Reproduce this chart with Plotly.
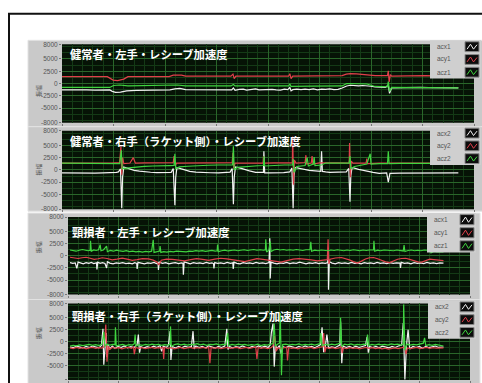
import plotly.graph_objects as go

W, H = 482, 383

# ---- data: sample index vs. acceleration (raw units) ----
TITLES = [
    "健常者・左手・レシーブ加速度",
    "健常者・右手（ラケット側）・レシーブ加速度",
    "頸損者・左手・レシーブ加速度",
    "頸損者・右手（ラケット側）・レシーブ加速度",
]
LEGEND_NAMES = [["acx1", "acy1", "acz1"], ["acx2", "acy2", "acz2"],
                ["acx1", "acy1", "acz1"], ["acx2", "acy2", "acz2"]]
Y_TICKS = [8000, 5000, 2500, 0, -2500, -5000, -8000]
Y_LABEL = "振幅"

# healthy, left hand
H_L_ACX = [(0,-1300),(20,-1250),(40,-1300),(60,-1280),(80,-1340),(100,-1290),(116,-1300),(122,-1600),(130,-1800),
           (142,-1750),(157,-1500),(180,-1400),(200,-1350),(230,-1300),(262,-1300),(274,-1100),(286,-1000),
           (300,-1250),(330,-1280),(360,-1300),(390,-1320),(412,-1300),(416,-900),(420,-1400),(430,-1200),
           (440,-1150),(448,-1350),(455,-1250),(462,-1150),(470,-1100),(478,-1300),(490,-1250),(500,-1150),
           (510,-1200),(520,-1300),(530,-1350),(540,-1150),(548,-1250),(553,-800),(556,-1500),(560,-1250),
           (570,-1150),(580,-1250),(590,-1150),(600,-1250),(610,-1100),(620,-1300),(630,-1150),(640,-1200),
           (650,-1100),(660,-1250),(670,-1200),(680,-900),(691,-500),(700,-350),(710,-450),(720,-500),
           (730,-400),(740,-400),(750,-550),(760,-700),(775,-750),(785,-800),(792,-300),(795,-2000),(800,-900),
           (815,-850),(830,-850),(850,-800),(870,-800),(890,-850),(910,-850),(935,-870),(962,-900)]
H_L_ACY = [(0,1400),(30,1380),(60,1420),(90,1390),(110,1400),(118,1000),(124,700),(135,600),(150,900),
           (160,1400),(200,1380),(230,1420),(260,1400),(270,1700),(290,1700),(300,1500),(340,1480),(380,1520),
           (410,1500),(415,1900),(418,1000),(422,1500),(460,1520),(500,1480),(550,1500),(553,2000),(556,1000),
           (560,1500),(600,1550),(640,1520),(680,1600),(690,1900),(700,2000),(715,1950),(730,1800),(760,1600),
           (790,1600),(792,2600),(794,300),(797,1800),(800,1500),(840,1580),(880,1600),(920,1570),(962,1550)]
H_L_ACZ = [(0,-800),(30,-820),(60,-780),(90,-810),(116,-800),(125,-400),(140,-300),(160,-500),(200,-480),
           (230,-470),(260,-450),(280,-300),(300,-500),(340,-480),(380,-520),(410,-500),(416,-200),(420,-500),
           (460,-480),(500,-520),(550,-500),(553,-100),(556,-600),(600,-520),(640,-480),(680,-500),(691,0),
           (715,-50),(740,-100),(760,-600),(790,-700),(792,400),(795,-1600),(800,-800),(840,-830),(880,-850),
           (920,-870),(962,-900)]

# healthy, right hand (racket side)
H_R_ACX = [(0,-600),(20,-640),(40,-580),(60,-620),(80,-650),(100,-600),(120,-600),(132,-500),(137,-400),
           (142,200),(145,-7800),(147,-1500),(150,600),(160,300),(175,-100),(188,-250),(200,-400),(215,-480),
           (230,-550),(250,-520),(265,-500),(270,300),(274,-7200),(276,-1500),(279,500),(290,200),(300,-100),
           (310,-300),(325,-450),(340,-550),(360,-580),(380,-600),(395,-520),(408,-450),(413,300),(416,-7000),
           (418,-1500),(421,600),(435,300),(445,0),(455,-200),(470,-500),(480,-450),(489,-500),(490,3800),
           (492,-600),(505,-620),(520,-650),(538,-550),(553,-400),(558,400),(561,-7800),(563,-1200),(566,500),
           (580,200),(590,50),(600,-100),(614,-200),(621,-250),(628,-300),(630,3800),(632,-300),(640,-400),
           (650,-500),(670,-450),(690,-400),(696,300),(699,-6500),(701,-1200),(704,500),(720,100),(730,-100),
           (740,-300),(755,-500),(770,-700),(780,-650),(788,-600),(792,-2500),(796,-700),(820,-640),(850,-650),
           (875,-620),(900,-600),(930,-630),(962,-600)]
H_R_ACY = [(0,1400),(25,1380),(50,1450),(75,1400),(100,1420),(120,1380),(140,1500),(143,4800),(145,-1000),
           (147,2500),(150,1300),(165,1400),(173,2500),(178,1400),(200,1450),(220,1500),(245,1450),(270,1500),
           (272,2800),(275,800),(278,1400),(305,1420),(330,1400),(355,1380),(380,1450),(400,1420),(413,1500),
           (415,3500),(417,300),(420,1400),(445,1450),(470,1400),(488,1400),(489,2800),(491,1400),(515,1430),
           (540,1500),(559,1500),(560,6800),(562,-3000),(564,2000),(568,1400),(590,1500),(592,3000),(594,1200),
           (605,1400),(607,2800),(609,1200),(625,1450),(640,1400),(670,1420),(697,1400),(698,5500),(700,-1500),
           (702,1800),(706,1400),(720,1420),(738,1400),(740,2300),(742,1300),(770,1380),(800,1400),(825,1430),
           (850,1450),(870,1400),(893,1400)]
H_R_ACZ = [(0,1400),(30,1380),(60,1350),(100,1320),(140,1300),(144,4000),(146,200),(150,300),(170,500),
           (200,700),(220,800),(240,900),(260,880),(272,900),(274,3300),(276,300),(285,600),(305,750),(330,900),
           (355,950),(380,1000),(400,1020),(414,1000),(416,4800),(418,0),(425,500),(440,650),(460,800),
           (475,850),(489,900),(490,2800),(492,800),(515,950),(540,1000),(560,1000),(561,2200),(563,-500),
           (570,700),(590,900),(595,2500),(598,800),(610,1200),(612,2600),(614,900),(630,1000),(640,1400),
           (670,1380),(697,1400),(699,2800),(701,300),(710,700),(725,950),(740,1200),(748,3300),(750,1200),
           (770,1280),(790,1300),(792,3800),(794,1300),(820,1330),(850,1350),(900,1340),(962,1350)]

# cervical cord injury, left hand
C_L_ACX = [(5,-1400),(12,-1550),(18,-1450),(22,-2600),(25,-1300),(32,-1500),(38,-1650),(45,-1400),(52,-1550),
           (58,-1350),(64,-1600),(71,-1450),(72,-2800),(74,-1300),(80,-1550),(86,-1400),(92,-1600),(96,-2500),
           (98,-1200),(104,-1500),(112,-1650),(120,-1450),(128,-1550),(136,-1400),(144,-1600),(152,-1500),
           (160,-1650),(166,-1400),(171,-1550),(172,-2700),(174,-1350),(182,-1500),(190,-1650),(198,-1450),
           (206,-1550),(214,-1350),(220,-1600),(224,-1450),(225,-2900),(227,-1300),(235,-1550),(243,-1400),
           (251,-1650),(259,-1500),(267,-1400),(275,-1600),(282,-1450),(286,-1550),(287,-3900),(289,-1250),
           (296,-1500),(304,-1650),(312,-1400),(320,-1550),(328,-1450),(336,-1600),(344,-1350),(352,-1550),
           (358,-1450),(362,-1600),(363,-2600),(365,-1400),(372,-1550),(380,-1450),(388,-1600),(396,-1350),
           (404,-1550),(410,-1450),(411,-2700),(413,-1300),(420,-1550),(428,-1650),(436,-1400),(444,-1550),
           (452,-1450),(460,-1600),(468,-1350),(476,-1550),(484,-1450),(492,-1600),(500,-1400),(502,3600),
           (503,-4700),(505,-1300),(512,-1500),(520,-1650),(528,-1450),(536,-1550),(544,-1350),(552,-1600),
           (560,-1450),(568,-1550),(576,-1300),(584,-1500),(592,-1650),(600,-1450),(608,-1550),(616,-1400),
           (624,-1600),(632,-1450),(640,-1550),(646,-1400),(647,1000),(648,-7000),(650,-1200),(657,-1500),
           (665,-1650),(673,-1400),(681,-1550),(689,-1450),(697,-1600),(705,-1350),(713,-1550),(721,-1450),
           (729,-1650),(737,-1400),(745,-1550),(753,-1450),(761,-1600),(769,-1350),(777,-1550),(785,-1450),
           (793,-1600),(801,-1400),(809,-1550),(817,-1450),(826,-1500),(827,-2500),(829,-1350),(837,-1550),
           (845,-1450),(853,-1650),(861,-1400),(869,-1550),(877,-1450),(885,-1600),(893,-1350),(901,-1550),
           (909,-1450),(917,-1600),(925,-1450),(934,-1500)]
C_L_ACY = [(5,-300),(15,-450),(25,-550),(35,-400),(45,-300),(55,-500),(65,-750),(75,-600),(85,-400),(97,-550),
           (110,-850),(122,-700),(135,-500),(147,-700),(160,-950),(172,-800),(185,-600),(200,-650),(212,-900),
           (222,-1300),(226,-1900),(232,-900),(245,-700),(260,-750),(275,-950),(290,-1050),(305,-800),(320,-600),
           (335,-750),(350,-950),(365,-700),(380,-500),(395,-650),(410,-850),(425,-1000),(440,-1200),(455,-900),
           (470,-600),(485,-750),(500,-950),(515,-1100),(530,-1300),(545,-1000),(560,-700),(575,-600),(590,-650),
           (605,-850),(620,-1050),(635,-900),(645,-800),(647,3400),(649,-1700),(652,-700),(665,-450),(680,-350),
           (690,-550),(700,-850),(710,-1200),(720,-1500),(730,-1100),(740,-650),(750,-400),(760,-350),(770,-600),
           (780,-950),(790,-1250),(800,-1400),(810,-1000),(820,-700),(830,-550),(840,-500),(850,-750),(860,-1050),
           (870,-1250),(880,-1300),(890,-950),(900,-700),(910,-800),(920,-950),(934,-1000)]
C_L_ACZ = [(5,1200),(12,1050),(20,950),(28,1150),(36,1300),(44,1150),(50,1050),(55,1150),(56,3100),(58,950),
           (64,1200),(70,1100),(76,1250),(80,2300),(82,1050),(88,1200),(96,2000),(98,850),(105,1100),(113,950),
           (121,1150),(129,1000),(137,900),(145,1050),(153,850),(161,950),(169,800),(177,900),(185,750),(193,900),
           (201,800),(208,950),(212,3300),(214,700),(220,900),(228,1000),(229,2000),(231,700),(238,850),(246,750),
           (254,900),(262,800),(270,950),(278,850),(286,900),(294,800),(302,950),(310,900),(318,1050),(326,950),
           (334,1050),(342,900),(350,1000),(358,1100),(366,950),(371,1050),(372,2300),(374,850),(382,1050),
           (390,1150),(398,1000),(406,1100),(414,1200),(422,1050),(430,1150),(438,1250),(446,1100),(454,1200),
           (462,1300),(470,1150),(478,1250),(486,1150),(491,1250),(492,3400),(494,800),(500,1150),(503,3000),
           (505,900),(512,1200),(520,1350),(528,1200),(536,1300),(544,1150),(552,1250),(560,1150),(568,1300),
           (576,1200),(584,1100),(592,1250),(600,1150),(602,1250),(604,2900),(606,950),(614,1150),(622,1050),
           (630,1200),(638,1100),(646,1050),(654,1200),(662,1100),(670,1250),(678,1150),(686,1050),(694,1200),
           (702,1100),(710,1250),(718,1150),(726,1050),(734,1200),(742,1100),(750,1200),(758,1150),(760,1250),
           (761,3100),(763,950),(770,1150),(778,1050),(786,1200),(794,1100),(802,1150),(810,1050),(818,1200),
           (826,1100),(834,1000),(836,2200),(838,900),(846,1100),(854,1200),(862,1050),(870,1150),(878,1050),
           (886,1200),(894,1150),(901,1350),(903,600),(910,900),(918,800),(926,850),(934,800)]

# cervical cord injury, right hand (racket side)
C_R_ACX = [(5,-1100),(13,-1250),(21,-950),(29,-1150),(37,-1300),(45,-1000),(53,-1200),(61,-900),(69,-1100),
           (77,-1300),(83,-800),(87,2700),(89,-4800),(92,-600),(95,1800),(97,-3200),(100,-700),(104,-1500),
           (110,-900),(117,-1400),(124,-1000),(132,-1200),(140,-900),(148,-1300),(156,-1050),(164,-1250),
           (172,-600),(175,1500),(178,-2300),(181,-1000),(189,-1300),(197,-1050),(205,-1250),(213,-950),
           (221,-1200),(229,-800),(233,-2000),(237,-900),(245,-1200),(250,-600),(254,2200),(256,-3800),
           (259,-1000),(267,-1300),(275,-1000),(283,-1250),(291,-950),(299,-1150),(307,-1000),(311,2200),
           (314,-1500),(318,-900),(326,-1200),(334,-1000),(342,-1300),(350,-900),(358,-1100),(366,-1350),
           (374,-1000),(382,-1200),(390,-900),(395,2700),(398,-1600),(402,-1000),(410,-1300),(418,-1050),
           (426,-1200),(434,-900),(442,-1150),(450,-1300),(458,-1000),(466,-1200),(474,-900),(482,-1150),
           (490,-950),(498,-1200),(503,-700),(506,2000),(510,3800),(513,-5200),(516,-800),(520,-1400),(526,-800),
           (530,-2500),(534,-1000),(542,-1250),(550,-900),(558,-1150),(566,-1300),(574,-1000),(582,-1200),
           (590,-900),(598,-1150),(606,-1000),(614,-1250),(622,-900),(628,-600),(632,3000),(636,-2200),
           (640,-1000),(644,1500),(648,-1300),(656,-1100),(664,-1250),(672,-900),(676,-700),(678,4200),
           (681,-4500),(684,-900),(692,-1200),(700,-1000),(708,-1250),(716,-950),(724,-1200),(732,-1000),
           (740,-800),(744,1000),(747,-2300),(750,-1000),(758,-1200),(766,-1000),(774,-1250),(782,-950),
           (790,-1150),(798,-1300),(806,-1000),(814,-1200),(822,-900),(830,-700),(834,3900),(838,-7900),
           (842,-800),(846,2500),(850,-1500),(858,-1000),(866,-1200),(874,-1000),(882,-1350),(890,-1000),
           (898,-1250),(906,-1000),(914,-900),(922,-1200),(934,-1100)]
C_R_ACY = [(5,-1300),(13,-1450),(21,-1200),(29,-1400),(37,-1250),(45,-1500),(53,-1300),(61,-1200),(69,-1400),
           (77,-1250),(85,-1350),(90,-1000),(94,3600),(97,-4200),(100,-900),(104,-1600),(110,-1200),(118,-1400),
           (126,-1250),(134,-1500),(142,-1300),(150,-1200),(158,-1400),(163,-1100),(165,-2600),(168,-1200),
           (176,-1400),(184,-1250),(192,-1450),(200,-1300),(208,-1200),(216,-1400),(224,-1250),(232,-1350),
           (236,-1100),(238,-3600),(240,-1200),(248,-1400),(256,-1250),(264,-1500),(272,-1300),(280,-1200),
           (288,-1450),(296,-1300),(304,-1200),(312,-1400),(320,-1250),(328,-1350),(336,-1200),(344,-1400),
           (350,-1100),(353,-4500),(356,-1200),(364,-1400),(372,-1250),(380,-1450),(388,-1300),(396,-1200),
           (404,-1400),(412,-1300),(420,-1200),(428,-1450),(436,-1300),(444,-1200),(452,-1400),(460,-1250),
           (467,-1100),(470,-3600),(473,-1200),(480,-1400),(488,-1250),(496,-1450),(504,-1300),(510,-900),
           (514,1200),(518,-2000),(522,-1300),(530,-1450),(538,-1250),(544,-1100),(546,-3900),(549,-1200),
           (556,-1400),(564,-1300),(572,-1500),(580,-1250),(588,-1400),(596,-1300),(604,-1200),(612,-1450),
           (620,-1300),(628,-1200),(634,-1000),(636,1800),(639,-2200),(642,-1200),(650,-1400),(658,-1250),
           (666,-1450),(674,-1300),(680,-1000),(682,-2400),(685,-1300),(693,-1450),(701,-1250),(709,-1400),
           (717,-1300),(725,-1500),(733,-1300),(741,-1200),(749,-1400),(757,-1250),(765,-1450),(773,-1300),
           (781,-1500),(789,-1350),(797,-1550),(805,-1400),(813,-1300),(821,-1450),(829,-1250),(838,-1100),
           (841,-2600),(844,-1300),(852,-1450),(860,-1300),(868,-1200),(876,-1450),(884,-1300),(892,-1200),
           (900,-1400),(908,-1250),(916,-1350),(924,-1300),(934,-1300)]
C_R_ACZ = [(5,-900),(13,-750),(21,-850),(29,-650),(37,-800),(45,-700),(53,-550),(61,-750),(69,-600),(77,-800),
           (85,-500),(89,2000),(92,-1000),(96,-500),(104,-700),(112,-550),(117,-600),(118,3000),(120,-900),
           (128,-700),(136,-550),(144,-800),(152,-600),(160,-700),(165,-400),(167,1500),(169,-900),(177,-600),
           (185,-750),(193,-550),(201,-700),(209,-500),(217,-650),(225,-550),(233,-750),(241,-600),(249,-700),
           (254,-500),(255,3200),(257,-1000),(265,-600),(273,-450),(281,-650),(289,-500),(297,-700),(305,-550),
           (313,-600),(321,-400),(329,-650),(337,-500),(345,-750),(353,-550),(361,-600),(369,-450),(377,-700),
           (385,-550),(393,-600),(397,1800),(400,-800),(408,-550),(416,-700),(424,-500),(432,-650),(440,-550),
           (448,-750),(456,-600),(464,-700),(472,-500),(480,-800),(488,-600),(496,-700),(504,-500),(510,-400),
           (513,3800),(516,-900),(522,-500),(526,-300),(528,6000),(531,-7000),(534,-600),(542,-500),(550,-700),
           (558,-550),(566,-650),(574,-450),(582,-700),(590,-550),(598,-650),(606,-500),(614,-700),(622,-550),
           (627,-400),(629,1800),(632,-800),(640,-550),(648,-700),(656,-500),(664,-650),(672,-450),(677,-300),
           (678,5000),(681,-1000),(688,-500),(696,-650),(704,-450),(712,-700),(720,-550),(728,-650),(736,-500),
           (743,-600),(745,1500),(748,-800),(756,-550),(764,-700),(772,-500),(780,-650),(788,-550),(796,-700),
           (804,-450),(812,-600),(820,-500),(828,-700),(834,-500),(835,7800),(838,-1800),(843,-500),(851,-700),
           (859,-550),(867,-650),(875,-500),(884,-300),(887,800),(890,-800),(898,-600),(906,-750),(914,-550),
           (922,-700),(934,-900)]

SERIES = [
    [H_L_ACX, H_L_ACY, H_L_ACZ],
    [H_R_ACX, H_R_ACY, H_R_ACZ],
    [C_L_ACX, C_L_ACY, C_L_ACZ],
    [C_R_ACX, C_R_ACY, C_R_ACZ],
]
COLORS = ["#f2f2f2", "#e0404a", "#3fd43f"]

# ---- panel geometry (pixels): plot area, grey panel, legend box, title anchor ----
PANELS = [
    dict(plot=(62, 474, 41, 121), panel=(28, 490, 37, 125), legend=(430, 481, 37, 76), title=(68, 51)),
    dict(plot=(62, 474, 129, 209), panel=(28, 490, 125, 211), legend=(430, 481, 125, 164), title=(68, 140)),
    dict(plot=(68, 470, 217, 296), panel=(28, 480, 213, 301), legend=(427, 476, 213, 253), title=(70, 232)),
    dict(plot=(68, 470, 305, 383), panel=(28, 480, 301, 395), legend=(428, 476, 302, 341), title=(70, 318)),
]


def px(x):
    return x / W


def py(y):
    return 1 - y / H


fig = go.Figure()
shapes, annotations = [], []

# outer frame
shapes.append(dict(type="rect", xref="paper", yref="paper", x0=px(9), x1=px(500), y0=py(400), y1=py(10),
                   line=dict(color="#111111", width=2), fillcolor="rgba(0,0,0,0)", layer="below"))

for i, pan in enumerate(PANELS):
    n = "" if i == 0 else str(i + 1)
    l, r, t, b = pan["plot"]
    pl, pr, pt, pb = pan["panel"]
    shapes.append(dict(type="rect", xref="paper", yref="paper", x0=px(pl), x1=px(pr), y0=py(pb), y1=py(pt),
                       fillcolor="#c9c9c9", line=dict(color="#e2e2e2", width=1), layer="below"))
    shapes.append(dict(type="rect", xref="paper", yref="paper", x0=px(l), x1=px(r), y0=py(b), y1=py(t),
                       fillcolor="#061306", line=dict(width=0), layer="below"))

    for s, c in zip(SERIES[i], COLORS):
        fig.add_trace(go.Scatter(x=[p[0] for p in s], y=[p[1] for p in s], mode="lines",
                                 line=dict(color=c, width=1.2), xaxis="x" + n, yaxis="y" + n,
                                 showlegend=False, hoverinfo="skip"))

    fig.layout["xaxis" + n] = dict(
        domain=[px(l), px(r)], range=[0, 1000], anchor="y" + n,
        showticklabels=False, ticks="outside", ticklen=2, tickcolor="#777", dtick=125,
        showgrid=True, gridcolor="#2a662a", gridwidth=1, zeroline=False,
        minor=dict(dtick=25, showgrid=True, gridcolor="#143a16", gridwidth=1),
        showline=False, fixedrange=True)
    fig.layout["yaxis" + n] = dict(
        domain=[py(b), py(t)], range=[-8000, 8000], anchor="x" + n,
        tickmode="array", tickvals=Y_TICKS, ticktext=[str(v) for v in Y_TICKS],
        ticks="outside", ticklen=2, tickcolor="#777",
        tickfont=dict(size=6.5, color="#555555", family="Liberation Sans"),
        showgrid=True, gridcolor="#2a662a", zeroline=False,
        minor=dict(dtick=1250, showgrid=True, gridcolor="#143a16"),
        showline=False, fixedrange=True)

    # y-axis name
    annotations.append(dict(xref="paper", yref="paper", x=px(32), y=py((t + b) / 2), text=Y_LABEL,
                            textangle=-90, showarrow=False, font=dict(size=6, color="#555555",
                                                                       family="Noto Sans CJK JP")))
    # panel title
    tx, ty = pan["title"]
    annotations.append(dict(xref="paper", yref="paper", x=px(tx), y=py(ty), xanchor="left", yanchor="middle",
                            text="<b>" + TITLES[i] + "</b>", showarrow=False,
                            font=dict(size=11.3, color="#ffffff", family="Noto Sans CJK JP")))

    # legend box with three entries
    ll, lr, lt, lb = pan["legend"]
    shapes.append(dict(type="rect", xref="paper", yref="paper", x0=px(ll), x1=px(lr), y0=py(lb), y1=py(lt),
                       fillcolor="#cfcfcf", line=dict(width=0), layer="above"))
    row_h = (lb - lt) / 3
    for k in range(3):
        cy = lt + row_h * (k + 0.5)
        annotations.append(dict(xref="paper", yref="paper", x=px(ll + 5), y=py(cy), xanchor="left",
                                yanchor="middle", text=LEGEND_NAMES[i][k], showarrow=False,
                                font=dict(size=6.5, color="#555555", family="Liberation Sans")))
        ix0, ix1 = lr - 16, lr - 2
        iy0, iy1 = cy - row_h / 2 + 1.5, cy + row_h / 2 - 1.5
        shapes.append(dict(type="rect", xref="paper", yref="paper", x0=px(ix0), x1=px(ix1), y0=py(iy1),
                           y1=py(iy0), fillcolor="#0c0c0c", line=dict(color="#888888", width=1),
                           layer="above"))
        wx = [ix0 + 2, ix0 + 5.5, ix0 + 8.5, ix1 - 2]
        wy = [iy1 - 2.5, iy0 + 2.5, iy1 - 2.5, iy0 + 3]
        path = "M " + " L ".join(f"{px(a):.5f},{py(bb):.5f}" for a, bb in zip(wx, wy))
        shapes.append(dict(type="path", xref="paper", yref="paper", path=path,
                           line=dict(color=COLORS[k], width=1), layer="above"))

fig.update_layout(width=W, height=H, margin=dict(l=0, r=0, t=0, b=0),
                  paper_bgcolor="#ffffff", plot_bgcolor="rgba(0,0,0,0)",
                  shapes=shapes, annotations=annotations, showlegend=False)

fig.write_html("out.html")
